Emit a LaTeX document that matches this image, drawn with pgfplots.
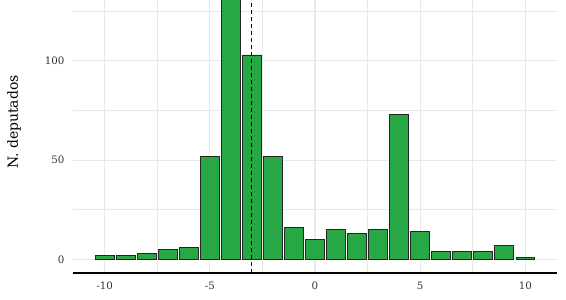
\documentclass[border=0pt]{standalone}
\usepackage{pgfplots}
\pgfplotsset{compat=1.18}
\usepackage{fontspec}
\setmainfont{DejaVu Serif}
\definecolor{barg}{RGB}{40,167,69}
\definecolor{gridc}{RGB}{232,232,232}
\begin{document}
\begin{tikzpicture}
\begin{axis}[
  scale only axis,
  width=484bp, height=273bp,
  xmin=-11.5, xmax=11.5,
  ymin=-6.8, ymax=130.7,
  axis x line*=bottom, axis y line*=left,
  x axis line style={-, black, line width=1.1pt},
  y axis line style={draw=none},
  xtick={-10,-5,0,5,10},
  ytick={0,50,100},
  minor xtick={-7.5,-2.5,2.5,7.5},
  minor ytick={25,75,125},
  grid=both,
  grid style={gridc, line width=1.1pt},
  minor grid style={gridc, line width=1.1pt},
  major tick length=0pt, minor tick length=0pt,
  tick style={draw=none},
  ticklabel style={font=\fontsize{10.3}{12}\selectfont, text=black!80},
  /pgf/number format/assume math mode=true,
  xticklabel style={anchor=center, yshift=-13bp},
  yticklabel style={anchor=east, xshift=-5bp},
  ylabel={N. deputados},
  ylabel style={font=\fontsize{14}{16}\selectfont, at={(axis description cs:-0.122,0.553)}, anchor=center, rotate=0},
  clip=true,
]
\addplot[ybar, bar width=0.9, fill=barg, draw=black!85, line width=0.9pt]
  coordinates {(-10,2) (-9,2) (-8,3) (-7,5) (-6,6) (-5,52) (-4,150) (-3,103)
  (-2,52) (-1,16) (0,10) (1,15) (2,13) (3,15) (4,73) (5,14) (6,4) (7,4) (8,4)
  (9,7) (10,1)};
\addplot[black, dash pattern=on 4bp off 3bp, line width=0.8pt] coordinates {(-3,-6.8) (-3,130.7)};
\end{axis}
\pgfresetboundingbox
\path[use as bounding box] ([xshift=-73bp,yshift=-27bp]current axis.south west) rectangle ([xshift=9bp]current axis.north east);
\end{tikzpicture}
\end{document}
